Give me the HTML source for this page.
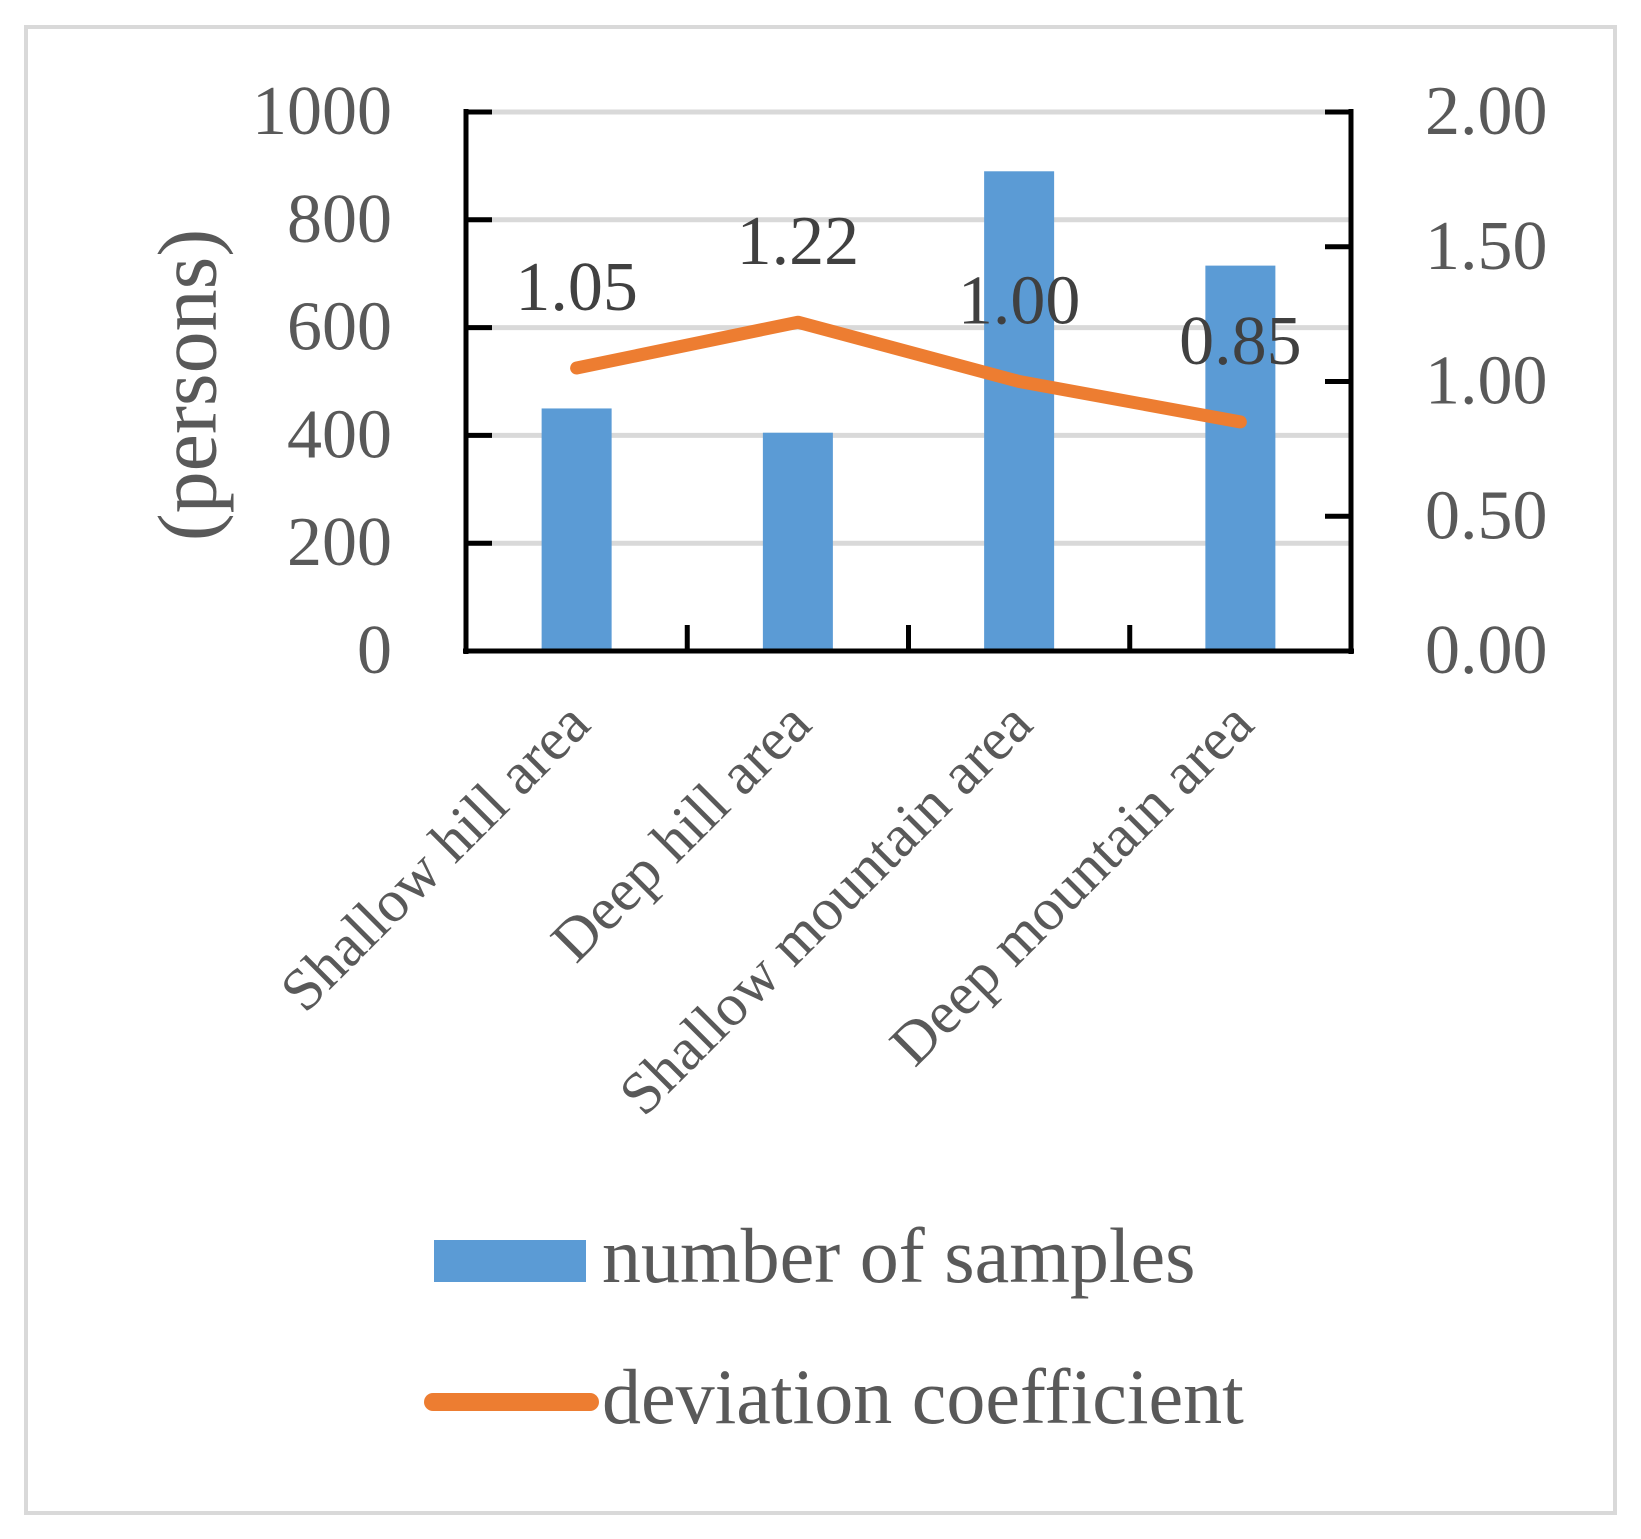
<!DOCTYPE html>
<html><head><meta charset="utf-8"><style>
html,body{margin:0;padding:0;background:#fff;}
svg{display:block;font-family:"Liberation Serif",serif;}
</style></head><body>
<svg id="chart" width="1641" height="1539" viewBox="0 0 1641 1539" xmlns="http://www.w3.org/2000/svg">
<rect x="26" y="27" width="1589" height="1486" fill="#fff" stroke="#d9d9d9" stroke-width="4"/>
<g id="grid"></g><g id="bars"></g><g id="axes"></g><g id="line"></g><g id="labels"></g>
<text x="188" y="385" font-size="84" fill="#595959" text-anchor="middle" dominant-baseline="central" transform="rotate(-90 188 385)">(persons)</text>
<rect x="434" y="1240" width="152" height="42" fill="#5b9bd5"/>
<text x="602" y="1282" font-size="78" fill="#595959">number of samples</text>
<line x1="433" y1="1402" x2="590" y2="1402" stroke="#ed7d31" stroke-width="18" stroke-linecap="round"/>
<text x="602" y="1423" font-size="78" fill="#595959">deviation coefficient</text>
</svg>
<script>
const categories = ["Shallow hill area","Deep hill area","Shallow mountain area","Deep mountain area"];
const samples = [450, 405, 890, 715];
const deviation = [1.05, 1.22, 1.00, 0.85];
const deviationLabels = ["1.05","1.22","1.00","0.85"];
const leftTicks = [0,200,400,600,800,1000];
const rightTicks = ["0.00","0.50","1.00","1.50","2.00"];
const rightTickValues = [0,0.5,1,1.5,2];

const NS="http://www.w3.org/2000/svg";
const X0=466,X1=1351,Y0=651,Y1=112;
const band=(X1-X0)/categories.length;
const xc=i=>X0+band*(i+0.5);
const yL=v=>Y0-(v/1000)*(Y0-Y1);
const yR=v=>Y0-(v/2)*(Y0-Y1);
function mk(tag,attrs,parent){const e=document.createElementNS(NS,tag);for(const k in attrs)e.setAttribute(k,attrs[k]);parent.appendChild(e);return e;}
const grid=document.getElementById('grid'),bars=document.getElementById('bars'),axes=document.getElementById('axes'),lineG=document.getElementById('line'),labels=document.getElementById('labels');

leftTicks.forEach(v=>{
  const y=yL(v);
  if(v>0){const g=mk('line',{x1:X0,x2:X1,y1:y,y2:y,stroke:'#d9d9d9','stroke-width':5},grid);
  
  }
  const t=mk('line',{x1:X0,x2:X0+26,y1:y,y2:y,stroke:'#000','stroke-width':5},axes);
  
  
  const l=mk('text',{x:392,y:y+22,'font-size':70,fill:'#595959','text-anchor':'end'},labels);
  l.textContent=v;
  
  
});
rightTickValues.forEach((v,i)=>{
  const y=yR(v);
  const t=mk('line',{x1:X1-26,x2:X1,y1:y,y2:y,stroke:'#000','stroke-width':5},axes);
  
  
  const l=mk('text',{x:1425,y:y+22,'font-size':70,fill:'#595959'},labels);
  l.textContent=rightTicks[i];
  
  
});
samples.forEach((v,i)=>{
  const b=mk('rect',{x:xc(i)-35,y:yL(v),width:70,height:Y0-yL(v),fill:'#5b9bd5'},bars);
  
  
});
const la=mk('line',{x1:X0,x2:X0,y1:Y1-3,y2:Y0+3,stroke:'#000','stroke-width':5},axes);


const ra=mk('line',{x1:X1,x2:X1,y1:Y1-3,y2:Y0+3,stroke:'#000','stroke-width':5},axes);


const ba=mk('line',{x1:X0-3,x2:X1+3,y1:Y0,y2:Y0,stroke:'#000','stroke-width':5},axes);


for(let i=1;i<categories.length;i++){
  const t=mk('line',{x1:X0+band*i,x2:X0+band*i,y1:Y0,y2:Y0-26,stroke:'#000','stroke-width':5},axes);
  
  
}
const pts=deviation.map((v,i)=>xc(i)+','+yR(v)).join(' ');
const pl=mk('polyline',{points:pts,fill:'none',stroke:'#ed7d31','stroke-width':13,'stroke-linecap':'round','stroke-linejoin':'round'},lineG);


deviation.forEach((v,i)=>{
  const t=mk('text',{x:xc(i),y:yR(v)-58,'font-size':70,fill:'#404040','text-anchor':'middle'},labels);
  t.textContent=deviationLabels[i];
  
  
});
categories.forEach((c,i)=>{
  const x=xc(i)+16,y=727;
  const t=mk('text',{x:x,y:y,'font-size':60,fill:'#595959','text-anchor':'end',transform:'rotate(-45 '+x+' '+y+')'},labels);
  t.textContent=c;
  
  
});
</script>
</body></html>
